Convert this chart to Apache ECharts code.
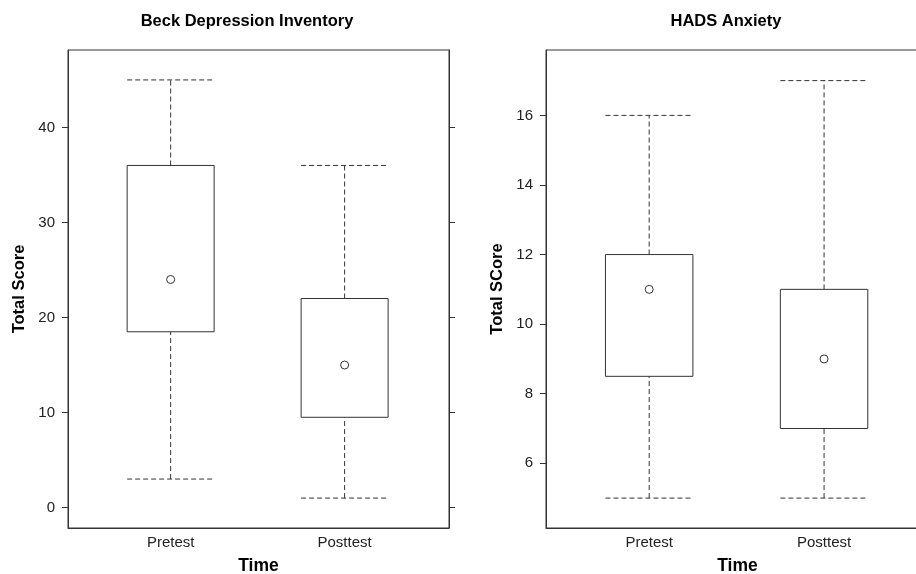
<!DOCTYPE html>
<html>
<head>
<meta charset="UTF-8">
<title>Total score boxplots</title>
<style>
  html, body { margin: 0; padding: 0; background: #fff; }
  #main { width: 916px; height: 574px; }
</style>
</head>
<body>
<div id="main"></div>
<script src="https://cdn.jsdelivr.net/npm/echarts@6/dist/echarts.min.js"></script>
<script>
// categories on the x axis (placed at 1 and 2)
var categories = ['Pretest', 'Posttest'];
var catPos = [1, 2];

// Beck Depression Inventory
var beckMin = [3, 1];
var beckQ1  = [18.5, 9.5];
var beckMed = [24, 15];
var beckQ3  = [36, 22];
var beckMax = [45, 36];
var beckTicks = [0, 10, 20, 30, 40];

// HADS Anxiety
var hadsMin = [5, 5];
var hadsQ1  = [8.5, 7];
var hadsMed = [11, 9];
var hadsQ3  = [12, 11];
var hadsMax = [16, 17];
var hadsTicks = [6, 8, 10, 12, 14, 16];

var FONT = "'Liberation Sans', Arial, sans-serif";
var LINE = '#333';

function rows(mn, q1, md, q3, mx) {
  var out = [];
  for (var i = 0; i < catPos.length; i++) {
    out.push([catPos[i], mn[i], q1[i], md[i], q3[i], mx[i]]);
  }
  return out;
}

// box, dashed whiskers and caps, circle for the middle value
function renderBox(params, api) {
  var x = api.value(0);
  var hw = 0.25;
  var pMin = api.coord([x, api.value(1)]);
  var pQ1 = api.coord([x, api.value(2)]);
  var pMed = api.coord([x, api.value(3)]);
  var pQ3 = api.coord([x, api.value(4)]);
  var pMax = api.coord([x, api.value(5)]);
  var xl = api.coord([x - hw, api.value(1)])[0];
  var xr = api.coord([x + hw, api.value(1)])[0];
  var dash = { stroke: LINE, lineWidth: 1, lineDash: [5, 3], fill: null };
  return {
    type: 'group',
    children: [
      { type: 'line', shape: { x1: pQ3[0], y1: pQ3[1], x2: pMax[0], y2: pMax[1] }, style: dash },
      { type: 'line', shape: { x1: pMin[0], y1: pMin[1], x2: pQ1[0], y2: pQ1[1] }, style: dash },
      { type: 'line', shape: { x1: xl, y1: pMax[1], x2: xr, y2: pMax[1] }, style: dash },
      { type: 'line', shape: { x1: xl, y1: pMin[1], x2: xr, y2: pMin[1] }, style: dash },
      { type: 'rect', shape: { x: xl, y: pQ3[1], width: xr - xl, height: pQ1[1] - pQ3[1] },
        style: { stroke: LINE, lineWidth: 1, fill: 'none' } },
      { type: 'circle', shape: { cx: pMed[0], cy: pMed[1], r: 4 },
        style: { stroke: LINE, lineWidth: 1, fill: '#fff' } }
    ]
  };
}

function xAxisFor(gridIndex) {
  return {
    type: 'value', gridIndex: gridIndex, min: 0.41, max: 2.6,
    name: 'Time', nameLocation: 'middle', nameGap: 29,
    nameTextStyle: { fontFamily: FONT, fontSize: 17.5, fontWeight: 'bold', color: '#000' },
    axisLine: { show: true, onZero: false, lineStyle: { color: LINE } },
    axisTick: { show: false },
    splitLine: { show: false },
    axisLabel: {
      customValues: catPos, margin: 7,
      fontFamily: FONT, fontSize: 15, color: '#222',
      formatter: function (v) { return categories[Math.round(v) - 1]; }
    }
  };
}

function yAxisFor(gridIndex, name, min, max, ticks, position, labels) {
  return {
    type: 'value', gridIndex: gridIndex, min: min, max: max, position: position,
    name: labels ? name : '', nameLocation: 'middle', nameGap: 40,
    nameTextStyle: { fontFamily: FONT, fontSize: 16.5, fontWeight: 'bold', color: '#000' },
    axisLine: { show: true, onZero: false, lineStyle: { color: LINE } },
    axisTick: { show: true, length: 6, customValues: ticks, lineStyle: { color: LINE } },
    splitLine: { show: false },
    axisLabel: {
      show: labels, customValues: ticks, margin: 13,
      fontFamily: FONT, fontSize: 15, color: '#222'
    }
  };
}

var chart = echarts.init(document.getElementById('main'));
chart.setOption({
  animation: false,
  backgroundColor: '#fff',
  title: [
    { text: 'Beck Depression Inventory', left: 242, top: 8, textAlign: 'center',
      textStyle: { fontFamily: FONT, fontSize: 16.5, fontWeight: 'bold', color: '#000' } },
    { text: 'HADS Anxiety', left: 721, top: 8, textAlign: 'center',
      textStyle: { fontFamily: FONT, fontSize: 16.5, fontWeight: 'bold', color: '#000' } }
  ],
  grid: [
    { left: 68, top: 50, width: 381, height: 478, outerBoundsMode: 'none',
      show: true, borderColor: LINE, borderWidth: 1 },
    { left: 546, top: 50, width: 383, height: 478, outerBoundsMode: 'none',
      show: true, borderColor: LINE, borderWidth: 1 }
  ],
  xAxis: [xAxisFor(0), xAxisFor(1)],
  yAxis: [
    yAxisFor(0, 'Total Score', -2.15, 48.15, beckTicks, 'left', true),
    yAxisFor(0, '', -2.15, 48.15, beckTicks, 'right', false),
    yAxisFor(1, 'Total SCore', 4.14, 17.88, hadsTicks, 'left', true)
  ],
  series: [
    { type: 'custom', xAxisIndex: 0, yAxisIndex: 0, renderItem: renderBox,
      data: rows(beckMin, beckQ1, beckMed, beckQ3, beckMax) },
    { type: 'custom', xAxisIndex: 1, yAxisIndex: 2, renderItem: renderBox,
      data: rows(hadsMin, hadsQ1, hadsMed, hadsQ3, hadsMax) }
  ]
});
</script>
</body>
</html>
